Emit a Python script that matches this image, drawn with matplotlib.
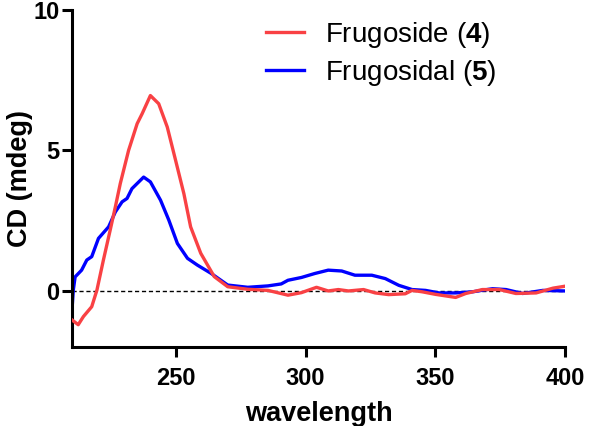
import numpy as np
import matplotlib.pyplot as plt

plt.rcParams['font.family'] = ['Liberation Sans', 'DejaVu Sans']
plt.rcParams['mathtext.fontset'] = 'custom'
plt.rcParams['mathtext.rm'] = 'Liberation Sans'
plt.rcParams['mathtext.bf'] = 'Liberation Sans:bold'

# Frugoside (4)
wl_4 = [210, 212.4, 214.4, 217.6, 219.6, 222.1, 224.7, 226.7, 228.6, 231.8, 235.1, 237.0,
        240.2, 243.4, 246.7, 249.9, 253.1, 255.7, 259.6, 264.8, 270, 277.7, 285.5, 293.2,
        298.4, 304.2, 308.7, 312.6, 316.5, 322.3, 326.8, 332.0, 338.4, 341, 344.9, 350,
        357.8, 361.7, 368.1, 374.6, 381, 388.8, 395.3, 400]
cd_4 = [-1.03, -1.2, -0.91, -0.56, 0.03, 1.1, 2.16, 2.99, 3.82, 5.0, 5.95, 6.3,
        6.95, 6.66, 5.83, 4.65, 3.46, 2.28, 1.34, 0.51, 0.15, 0.06, 0.02, -0.15,
        -0.06, 0.13, 0.0, 0.05, 0.0, 0.05, -0.07, -0.13, -0.1, 0.02, -0.03, -0.12,
        -0.23, -0.09, 0.05, 0.05, -0.09, -0.07, 0.1, 0.17]

# Frugosidal (5)
wl_5 = [210, 210.5, 211.2, 213.7, 215.7, 217.6, 220.2, 224.1, 226.7, 229.3, 231.2, 233.1,
        237.6, 240.2, 244.1, 247.3, 250.6, 254.5, 258.3, 263.5, 270, 277.7, 285.5, 290.6,
        293.2, 298.4, 303.5, 308.7, 313.9, 319, 325.5, 330.7, 335.9, 341, 346.2, 351.4,
        357.8, 364.3, 372, 377.2, 383.6, 391.4, 400]
cd_5 = [-0.67, 0.03, 0.5, 0.74, 1.1, 1.22, 1.87, 2.28, 2.81, 3.17, 3.29, 3.64,
        4.05, 3.88, 3.23, 2.52, 1.69, 1.16, 0.92, 0.63, 0.21, 0.13, 0.18, 0.25,
        0.38, 0.48, 0.62, 0.74, 0.71, 0.56, 0.56, 0.44, 0.2, 0.05, 0.02, -0.07,
        -0.07, -0.03, 0.08, 0.05, -0.09, 0.02, 0.0]

fig = plt.figure(figsize=(6, 4.26), dpi=100)
ax = fig.add_axes([0.12, 0.185, 0.822, 0.792])

ax.axhline(0, color='k', lw=1, ls=(0, (3, 2)), zorder=1)
ax.plot(wl_4, cd_4, color='#f94144', lw=2.4, label='Frugoside ($\\mathbf{4}$)', zorder=3)
ax.plot(wl_5, cd_5, color='#0000ff', lw=2.4, label='Frugosidal ($\\mathbf{5}$)', zorder=2)

ax.set_xlim(210, 400)
ax.set_ylim(-2, 10)
ax.set_xticks([250, 300, 350, 400])
ax.set_yticks([0, 5, 10])
for s in ['top', 'right']:
    ax.spines[s].set_visible(False)
for s in ['left', 'bottom']:
    ax.spines[s].set_linewidth(2.2)
ax.tick_params(width=2.2, length=7, labelsize=17)
ax.tick_params(axis='x', pad=7)
ax.tick_params(axis='y', pad=2)
for lab in ax.get_xticklabels() + ax.get_yticklabels():
    lab.set_fontweight('bold')

ax.set_xlabel('wavelength', fontsize=19.5, fontweight='bold', labelpad=8)
ax.set_ylabel('CD (mdeg)', fontsize=19.5, fontweight='bold', labelpad=0)

leg = ax.legend(loc='upper left', bbox_to_anchor=(0.343, 1.045), frameon=False,
                fontsize=20, handlelength=1.35, handletextpad=0.75, labelspacing=0.3)

plt.savefig('out.png', dpi=100)
